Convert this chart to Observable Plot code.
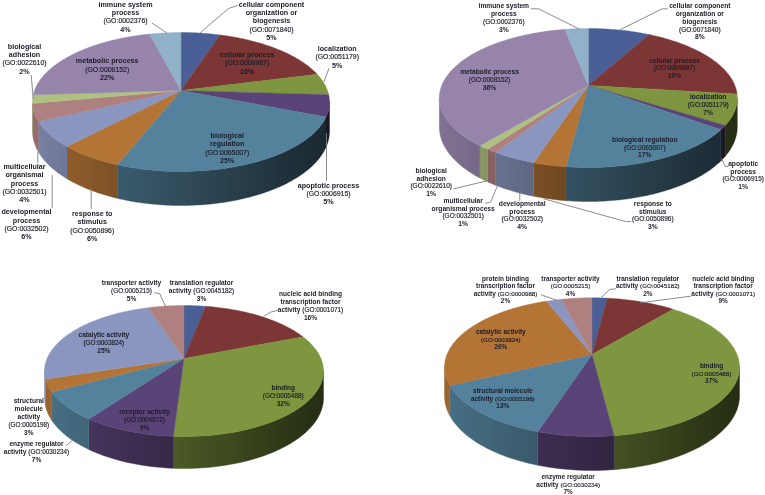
<!DOCTYPE html>
<html>
<head>
<meta charset="utf-8">
<script src="https://cdn.jsdelivr.net/npm/d3@7"></script>
<script src="https://cdn.jsdelivr.net/npm/@observablehq/plot@0.6"></script>
<style>
html,body{margin:0;padding:0;background:#fff}
svg{display:block;filter:blur(0.35px)}
</style>
</head>
<body>
<div id="chart"></div>
<script>
// ---- data: slice share, slice label lines, in drawing order (clockwise from 12 o'clock)
const valuesA = [5,16,5,5,25,6,6,4,2,22,4];
const valuesB = [8,19,7,1,17,3,4,1,1,36,3];
const valuesC = [3,16,32,9,7,3,25,5];
const valuesD = [2,9,37,7,13,26,2,4];

const linesA = [
  ["cellular component","organization or","biogenesis","(GO:0071840)"],
  ["cellular process","(GO:0009987)"],
  ["localization","(GO:0051179)"],
  ["apoptotic process","(GO:0006915)"],
  ["biological","regulation","(GO:0065007)"],
  ["response to","stimulus","(GO:0050896)"],
  ["developmental","process","(GO:0032502)"],
  ["multicellular","organismal","process","(GO:0032501)"],
  ["biological","adhesion","(GO:0022610)"],
  ["metabolic process","(GO:0008152)"],
  ["immune system","process","(GO:0002376)"]
];
const linesB = [
  ["cellular component","organization or","biogenesis","(GO:0071840)"],
  ["cellular process","(GO:0009987)"],
  ["localization","(GO:0051179)"],
  ["apoptotic","process","(GO:0006915)"],
  ["biological regulation","(GO:0065007)"],
  ["response to","stimulus","(GO:0050896)"],
  ["developmental","process","(GO:0032502)"],
  ["multicellular","organismal process","(GO:0032501)"],
  ["biological","adhesion","(GO:0022610)"],
  ["metabolic process","(GO:0008152)"],
  ["immune system","process","(GO:0002376)"]
];
const linesC = [
  ["translation regulator","activity (GO:0045182)"],
  ["nucleic acid binding","transcription factor","activity (GO:0001071)"],
  ["binding","(GO:0005488)"],
  ["receptor activity","(GO:0004872)"],
  ["enzyme regulator","activity (GO:0030234)"],
  ["structural","molecule","activity","(GO:0005198)"],
  ["catalytic activity","(GO:0003824)"],
  ["transporter activity","(GO:0005215)"]
];
const linesD = [
  ["translation regulator","activity (GO:0045182)"],
  ["nucleic acid binding","transcription factor","activity (GO:0001071)"],
  ["binding","(GO:0005488)"],
  ["enzyme regulator","activity (GO:0030234)"],
  ["structural molecule","activity (GO:0005198)"],
  ["catalytic activity","(GO:0003824)"],
  ["protein binding","transcription factor","activity (GO:0000988)"],
  ["transporter activity","(GO:0005215)"]
];

// ---- styles and layout
const colorsA = ["#4a5f95","#7c3635","#7d963f","#5a4477","#54829c","#b37435","#8a96bf","#af8080","#aec180","#9684ab","#90b1c7"];
const colorsC = ["#4a5f95","#7c3635","#7d963f","#5a4477","#54829c","#b37435","#8a96bf","#af8080"];

const labelPosA = [[271,4],[246.7,54.3],[336.7,48.3],[328,185],[226.7,135.3],[91.7,213.3],[26,211.7],[24,166.3],[24,46],[106.7,60.7],[125,4]];
const labelPosB = [[699.3,5.7],[674,60],[707.7,96.7],[742.7,163.3],[644.3,139.3],[652.3,203.3],[521.7,203.3],[462.7,200.3],[430.7,170.3],[489,71.7],[503.3,5.7]];
const labelPosC = [[201,282.7],[310,293.7],[282.7,387.3],[144,411.7],[36,443.3],[28.3,400.7],[103.3,334.7],[131,282.3]];
const labelPosD = [[647.3,278],[722.7,278],[711,365.7],[567.7,476.7],[502.3,390.7],[500.3,331.7],[505,278],[570,278]];

const leaders = [
  [[151.7,22.7],[166,32.3]],
  [[237,5],[228,8],[200,32]],
  [[328.3,68.3],[323.3,81.7]],
  [[30.7,75],[32.7,98]],
  [[326,133],[326,180]],
  [[90.7,188],[90.7,208]],
  [[51.7,175],[51.7,207]],
  [[37.3,152],[37.3,162]],
  [[530.7,8.3],[538,8.3],[578.3,28.3]],
  [[666.7,8.3],[661.7,8.3],[619.3,29.3]],
  [[721,158.3],[725,166],[727.7,166]],
  [[543.3,198.3],[625,221],[630,221]],
  [[519.3,192.7],[519.3,200]],
  [[496.7,186],[490,201.7],[485,202.7]],
  [[485,180.7],[453.3,188.3]],
  [[154,292.3],[159.3,293.3],[165,306]],
  [[276.7,310],[270,311.7],[263.3,315.7]],
  [[66,445],[71.7,440]],
  [[540.7,294.3],[556.7,300]],
  [[615,288.3],[609,289],[600,297.7]],
  [[690,295.7],[640,302.3]]
];

// top = hub-to-back-rim, bottom = hub-to-front-rim
const panels = [
  {values:valuesA, lines:linesA, colors:colorsA, pos:labelPosA, cx:180.5, hy:90,  rx:148.5, top:58,  bottom:81, depth:34, lh:8.3,  fs:7.15, fg:6.9},
  {values:valuesB, lines:linesB, colors:colorsA, pos:labelPosB, cx:587.8, hy:85,  rx:149,   top:57,  bottom:82, depth:34, lh:7.75, fs:6.7,  fg:6.5},
  {values:valuesC, lines:linesC, colors:colorsC, pos:labelPosC, cx:183.5, hy:358, rx:139.5, top:53,  bottom:78, depth:32, lh:7.8,  fs:6.55, fg:6.4},
  {values:valuesD, lines:linesD, colors:colorsC, pos:labelPosD, cx:591.5, hy:354, rx:147.5, top:56.7,bottom:82, depth:34, lh:7.6,  fs:6.45, fg:6.2}
];

const fontFamily = "Liberation Sans, Arial, sans-serif";
const ctx = document.createElement("canvas").getContext("2d");
const measure = (t, weight, size) => { ctx.font = `${weight} ${size}px "Liberation Sans"`; return ctx.measureText(t).width; };
const shadeAt = xn => 0.58 - 0.28*xn;
const shade = (hex, f) => { const c = d3.rgb(hex); return d3.rgb(c.r*f, c.g*f, c.b*f).formatHex(); };

const faces = [], walls = [], boldRows = [], plainRows = [], leaderPts = [], gradients = [];
panels.forEach((p, pi) => {
  // perspective projection of the unit disc
  const k = (p.bottom - p.top) / (p.bottom + p.top);
  const g = p.top * (1 + k);
  const f = p.rx * Math.sqrt(1 - k*k);
  const proj = (a, d = 0) => {
    const u = Math.sin(a), v = Math.cos(a), w = 1 + k*v;
    return [p.cx + f*u/w, p.hy - g*v/w + d*(1 - k)/w];
  };
  const a0 = Math.acos(-k), a1 = 2*Math.PI - a0;
  const total = d3.sum(p.values);
  let cum = 0;
  p.values.forEach((val, i) => {
    const start = cum/total*2*Math.PI;
    cum += val;
    const end = cum/total*2*Math.PI;
    const id = pi + "-" + i;
    const n = Math.max(2, Math.ceil((end-start)/(Math.PI/180)));
    const ring = [[p.cx, p.hy]];
    for (let j = 0; j <= n; j++) ring.push(proj(start + (end-start)*j/n));
    ring.push([p.cx, p.hy]);
    ring.forEach(([x,y]) => faces.push({x, y, id, color:p.colors[i]}));
    // visible wall of this slice, painted with a left-to-right lighting gradient
    const ws = Math.max(start, a0), we = Math.min(end, a1);
    if (we > ws) {
      const gid = "wall" + id;
      gradients.push({id:gid, x1:p.cx-p.rx, x2:p.cx+p.rx,
        c1:shade(p.colors[i], shadeAt(-1)), c2:shade(p.colors[i], shadeAt(1))});
      const m = Math.max(1, Math.ceil((we-ws)/(Math.PI/180)));
      const upper = d3.range(m+1).map(j => proj(ws + (we-ws)*j/m));
      const lower = d3.range(m+1).map(j => proj(we - (we-ws)*j/m, p.depth));
      [...upper, ...lower, upper[0]].forEach(([x,y]) => walls.push({x, y, id, color:`url(#${gid})`}));
    }
    // label rows: slice names in bold, GO identifiers in regular
    const rows = [...p.lines[i], val + "%"];
    rows.forEach((t, r) => {
      const x = p.pos[i][0], y = p.pos[i][1] + r*p.lh;
      const cut = t.indexOf("(GO:");
      if (cut < 0) boldRows.push({t, x, y, fs:p.fs});
      else if (cut === 0) plainRows.push({t, x, y, fs:p.fg});
      else {
        const a = t.slice(0, cut).trim(), b = t.slice(cut);
        const wa = measure(a, 700, p.fs), wb = measure(b, 400, p.fg), gap = p.fs*0.3;
        const left = x - (wa + gap + wb)/2;
        boldRows.push({t:a, x:left + wa/2, y, fs:p.fs});
        plainRows.push({t:b, x:left + wa + gap + wb/2, y, fs:p.fg});
      }
    });
  });
});
leaders.forEach((l, i) => l.forEach(([x,y]) => leaderPts.push({x, y, id:i})));

const gradientDefs = () => {
  const defs = d3.create("svg:defs");
  gradients.forEach(gr => {
    const lg = defs.append("linearGradient").attr("id", gr.id)
      .attr("gradientUnits", "userSpaceOnUse")
      .attr("x1", gr.x1).attr("x2", gr.x2).attr("y1", 0).attr("y2", 0);
    lg.append("stop").attr("offset", 0).attr("stop-color", gr.c1);
    lg.append("stop").attr("offset", 1).attr("stop-color", gr.c2);
  });
  return defs.node();
};

const chart = Plot.plot({
  width:765, height:495,
  marginTop:0, marginRight:0, marginBottom:0, marginLeft:0,
  x:{domain:[0,765], range:[0,765], axis:null},
  y:{domain:[0,495], range:[0,495], axis:null},
  color:{type:"identity"},
  style:{background:"#fff"},
  marks:[
    gradientDefs,
    Plot.line(walls, {x:"x", y:"y", z:"id", fill:"color", stroke:"color", strokeWidth:0.4, curve:"linear"}),
    Plot.line(faces, {x:"x", y:"y", z:"id", fill:"color", stroke:"color", strokeWidth:0.4, curve:"linear"}),
    Plot.line(leaderPts, {x:"x", y:"y", z:"id", stroke:"#7f7f7f", strokeWidth:0.9, curve:"linear"}),
    Plot.text(boldRows, {x:"x", y:"y", text:"t", fontFamily, fontSize:"fs", fontWeight:700, fill:"#1c1c28", textAnchor:"middle", lineAnchor:"middle"}),
    Plot.text(plainRows, {x:"x", y:"y", text:"t", fontFamily, fontSize:"fs", fontWeight:400, fill:"#1c1c28", stroke:"#1c1c28", strokeWidth:0.15, textAnchor:"middle", lineAnchor:"middle"})
  ]
});
document.getElementById("chart").appendChild(chart);
</script>
</body>
</html>
